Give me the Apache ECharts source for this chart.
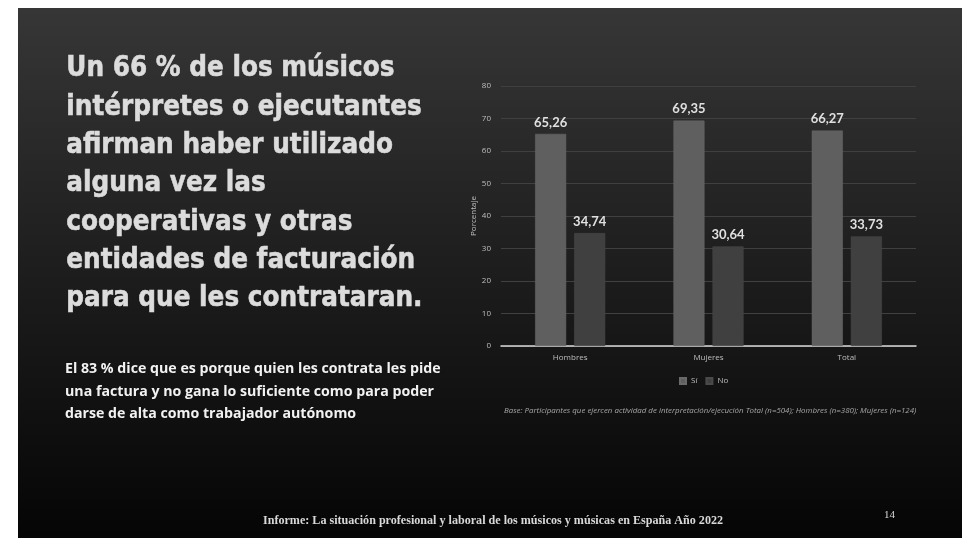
<!DOCTYPE html>
<html>
<head>
<meta charset="utf-8">
<script src="https://cdn.jsdelivr.net/npm/echarts@6/dist/echarts.min.js"></script>
<style>
html,body{margin:0;padding:0;background:#ffffff;}
#c{width:962px;height:538px;}
</style>
</head>
<body>
<div id="c"></div>
<script>
var categories = ['Hombres', 'Mujeres', 'Total'];
var siValues = [65.26, 69.35, 66.27];
var noValues = [34.74, 30.64, 33.73];
var seriesNames = ['Sí', 'No'];
var yTicks = [0, 10, 20, 30, 40, 50, 60, 70, 80];
var titleLines = [
  'Un 66 % de los músicos',
  'intérpretes o ejecutantes',
  'afirman haber utilizado',
  'alguna vez las',
  'cooperativas y otras',
  'entidades de facturación',
  'para que les contrataran.'
];
var subLines = [
  'El 83 % dice que es porque quien les contrata les pide',
  'una factura y no gana lo suficiente como para poder',
  'darse de alta como trabajador autónomo'
];
var baseNote = 'Base: Participantes que ejercen actividad de interpretación/ejecución Total (n=504); Hombres (n=380); Mujeres (n=124)';
var footer = 'Informe: La situación profesional y laboral de los músicos y músicas en España Año 2022';
var pageNum = '14';

var chart = echarts.init(document.getElementById('c'));

function fmt(v){ return v.toFixed(2).replace('.', ','); }

var graphics = [
  {type:'rect', shape:{x:18, y:8, width:944, height:530}, z:-10, silent:true,
   style:{fill:new echarts.graphic.LinearGradient(0,0,0,1,[
     {offset:0, color:'#363636'},{offset:0.5, color:'#1d1d1d'},{offset:1, color:'#050505'}])}},
  {type:'text', left:66, top:50, z:10, scaleX:0.885,
   style:{text:titleLines.join('\n'), fill:'#dcdcdc', font:'bold 28px "DejaVu Sans"', lineHeight:38.3,
     stroke:'#dcdcdc', lineWidth:0.6}},
  {type:'text', left:65, top:358, z:10,
   style:{text:subLines.join('\n'), fill:'#f2f2f2', font:'bold 14.2px "Open Sans"', lineHeight:22.5}},
  {type:'text', left:504, top:407, z:10,
   style:{text:baseNote, fill:'#a6a6a6', font:'italic 7.9px "Open Sans"'}},
  {type:'text', left:263, top:515, z:10,
   style:{text:footer, fill:'#d9d9d9', font:'bold 12.1px "Liberation Serif"'}},
  {type:'text', left:884, top:510, z:10,
   style:{text:pageNum, fill:'#d9d9d9', font:'11px "Liberation Serif"'}}
];

function labelCfg(){
  return {show:true, position:'top', distance:5, color:'#e0e0e0', fontFamily:'Lato', fontWeight:'bold', fontSize:13,
    formatter:function(p){return fmt(p.value);}};
}

chart.setOption({
  animation:false,
  backgroundColor:'transparent',
  graphic:graphics,
  grid:{left:501, right:46, top:86, bottom:192, containLabel:false},
  legend:{data:seriesNames, left:674, top:372, itemWidth:6, itemHeight:6, itemGap:8,
    icon:'rect', textStyle:{color:'#bfbfbf', fontSize:8, fontFamily:'Open Sans'}},
  xAxis:{type:'category', data:categories,
    axisLine:{lineStyle:{color:'#d9d9d9', width:1.5}}, axisTick:{show:false},
    axisLabel:{color:'#bfbfbf', fontSize:8, fontFamily:'Open Sans', margin:8}},
  yAxis:{type:'value', min:yTicks[0], max:yTicks[yTicks.length-1], interval:10,
    name:'Porcentaje', nameLocation:'middle', nameGap:21, nameRotate:90,
    nameTextStyle:{color:'#bfbfbf', fontSize:8, fontFamily:'Open Sans'},
    axisLine:{show:false}, axisTick:{show:false},
    axisLabel:{color:'#bfbfbf', fontSize:8, fontFamily:'Open Sans', margin:10},
    splitLine:{lineStyle:{color:'#404040', width:1}}},
  series:[
    {name:seriesNames[0], type:'bar', data:siValues, barWidth:31, barGap:'26%',
     itemStyle:{color:'#5f5f5f', borderColor:'#6a6a6a', borderWidth:0.5}, label:labelCfg()},
    {name:seriesNames[1], type:'bar', data:noValues, barWidth:31,
     itemStyle:{color:'#404040', borderColor:'#4a4a4a', borderWidth:0.5}, label:labelCfg()}
  ]
});
</script>
</body>
</html>
